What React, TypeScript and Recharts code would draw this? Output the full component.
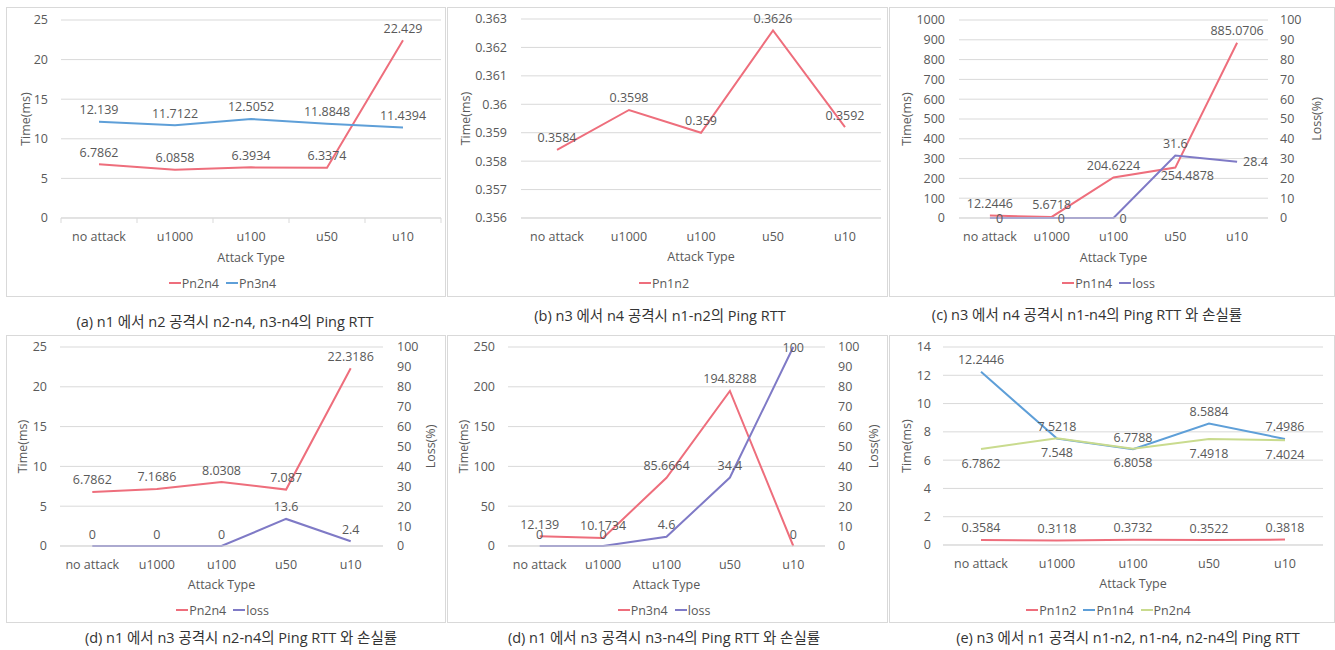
import React from 'react';
import { ComposedChart, Line, XAxis, YAxis, CartesianGrid, Legend } from 'recharts';

// ---------- data ----------
const categories = ['no attack', 'u1000', 'u100', 'u50', 'u10'];

// (a) n1 -> n2 attack
const aPn2n4 = [6.7862, 6.0858, 6.3934, 6.3374, 22.429];
const aPn3n4 = [12.139, 11.7122, 12.5052, 11.8848, 11.4394];
const aTicks = [0, 5, 10, 15, 20, 25];

// (b) n3 -> n4 attack
const bPn1n2 = [0.3584, 0.3598, 0.359, 0.3626, 0.3592];
const bTicks = [0.356, 0.357, 0.358, 0.359, 0.36, 0.361, 0.362, 0.363];

// (c) n3 -> n4 attack, n1-n4
const cPn1n4 = [12.2446, 5.6718, 204.6224, 254.4878, 885.0706];
const cLoss = [0, 0, 0, 31.6, 28.4];
const cTicks = [0, 100, 200, 300, 400, 500, 600, 700, 800, 900, 1000];
const lossTicks = [0, 10, 20, 30, 40, 50, 60, 70, 80, 90, 100];

// (d) n1 -> n3 attack, n2-n4
const dPn2n4 = [6.7862, 7.1686, 8.0308, 7.087, 22.3186];
const dLoss = [0, 0, 0, 13.6, 2.4];
const dTicks = [0, 5, 10, 15, 20, 25];

// (d) n1 -> n3 attack, n3-n4
const d2Pn3n4 = [12.139, 10.1734, 85.6664, 194.8288, 0];
const d2Loss = [0, 0, 4.6, 34.4, 100];
const d2Ticks = [0, 50, 100, 150, 200, 250];

// (e) n3 -> n1 attack
const ePn1n2 = [0.3584, 0.3118, 0.3732, 0.3522, 0.3818];
const ePn1n4 = [12.2446, 7.5218, 6.7788, 8.5884, 7.4986];
const ePn2n4 = [6.7862, 7.548, 6.8058, 7.4918, 7.4024];
const eTicks = [0, 2, 4, 6, 8, 10, 12, 14];

const captions = [
  '(a) n1 에서 n2 공격시 n2-n4, n3-n4의 Ping RTT',
  '(b) n3 에서 n4 공격시 n1-n2의 Ping RTT',
  '(c) n3 에서 n4 공격시 n1-n4의 Ping RTT 와 손실률',
  '(d) n1 에서 n3 공격시 n2-n4의 Ping RTT 와 손실률',
  '(d) n1 에서 n3 공격시 n3-n4의 Ping RTT 와 손실률',
  '(e) n3 에서 n1 공격시 n1-n2, n1-n4, n2-n4의 Ping RTT',
];

// ---------- styles ----------
const RED = '#EE6E7C';
const BLUE = '#5E9FD8';
const PURPLE = '#7F7AC6';
const GREEN = '#C9DB8E';
const TXT = '#595959';
const GRID = '#D9D9D9';
const FONT = "'Open Sans', 'Noto Sans CJK KR', sans-serif";
const FS = 12.5;

type Pos = 'a' | 'b' | 'c' | 'r' | 'br';
type Series = { key: string; name: string; values: number[]; color: string; right?: boolean; labels: Pos[] };
type Cfg = {
  box: [number, number, number, number];
  plot: [number, number, number, number];
  leftTicks: number[];
  rightTicks?: number[];
  gapL: number;
  gapR?: number;
  yTitleX: number;
  lossTitleX?: number;
  tickY: number;
  titleY: number;
  legendY: number;
  boundaryTicks?: boolean;
  series: Series[];
};

const all = (p: Pos): Pos[] => [p, p, p, p, p];

const panels: Cfg[] = [
  {
    box: [6, 7, 440, 290], plot: [61, 20, 441, 218], leftTicks: aTicks, gapL: 13, yTitleX: 25,
    tickY: 237, titleY: 257, legendY: 283, boundaryTicks: true,
    series: [
      { key: 's0', name: 'Pn2n4', values: aPn2n4, color: RED, labels: all('a') },
      { key: 's1', name: 'Pn3n4', values: aPn3n4, color: BLUE, labels: all('a') },
    ],
  },
  {
    box: [447, 7, 441, 290], plot: [521, 19, 881, 218], leftTicks: bTicks, gapL: 14, yTitleX: 465,
    tickY: 237, titleY: 256, legendY: 283,
    series: [{ key: 's0', name: 'Pn1n2', values: bPn1n2, color: RED, labels: all('a') }],
  },
  {
    box: [889, 7, 446, 290], plot: [959, 20, 1268, 218], leftTicks: cTicks, rightTicks: lossTicks, gapL: 14, gapR: 12,
    yTitleX: 906, lossTitleX: 1316, tickY: 237, titleY: 257, legendY: 283,
    series: [
      { key: 's0', name: 'Pn1n4', values: cPn1n4, color: RED, labels: ['a', 'a', 'a', 'br', 'a'] },
      { key: 's1', name: 'loss', values: cLoss, color: PURPLE, right: true, labels: ['r', 'r', 'r', 'a', 'r'] },
    ],
  },
  {
    box: [6, 335, 440, 288], plot: [60, 347, 383, 546], leftTicks: dTicks, rightTicks: lossTicks, gapL: 13, gapR: 14,
    yTitleX: 22, lossTitleX: 430, tickY: 565, titleY: 584, legendY: 610,
    series: [
      { key: 's0', name: 'Pn2n4', values: dPn2n4, color: RED, labels: all('a') },
      { key: 's1', name: 'loss', values: dLoss, color: PURPLE, right: true, labels: all('a') },
    ],
  },
  {
    box: [447, 335, 441, 288], plot: [508, 347, 825, 546], leftTicks: d2Ticks, rightTicks: lossTicks, gapL: 13, gapR: 13,
    yTitleX: 463, lossTitleX: 873, tickY: 565, titleY: 584, legendY: 610,
    series: [
      { key: 's0', name: 'Pn3n4', values: d2Pn3n4, color: RED, labels: all('a') },
      { key: 's1', name: 'loss', values: d2Loss, color: PURPLE, right: true, labels: ['a', 'a', 'a', 'a', 'c'] },
    ],
  },
  {
    box: [889, 335, 446, 288], plot: [943, 347, 1323, 545], leftTicks: eTicks, gapL: 12, yTitleX: 906,
    tickY: 564, titleY: 583, legendY: 610,
    series: [
      { key: 's0', name: 'Pn1n2', values: ePn1n2, color: RED, labels: all('a') },
      { key: 's1', name: 'Pn1n4', values: ePn1n4, color: BLUE, labels: all('a') },
      { key: 's2', name: 'Pn2n4', values: ePn2n4, color: GREEN, labels: all('b') },
    ],
  },
];

const captionPos: [number, number][] = [
  [225, 322], [660, 316], [1087, 315], [241, 638], [664, 638], [1128, 638],
];

const labelOffsets: Record<Pos, [number, number, string]> = {
  a: [0, -12, 'middle'],
  b: [0, 14, 'middle'],
  c: [0, 0, 'middle'],
  r: [6, 0, 'start'],
  br: [12, 8, 'middle'],
};

function makeLabel(positions: Pos[]) {
  return (p: any) => {
    const { x, y, value, index } = p;
    if (x == null || y == null) return null;
    const [dx, dy, anchor] = labelOffsets[positions[index] || 'a'];
    return (
      <text key={`l${index}`} x={x + dx} y={y + dy} textAnchor={anchor} dominantBaseline="central" fill={TXT} fontSize={FS}>
        {value}
      </text>
    );
  };
}

function Panel({ cfg }: { cfg: Cfg }) {
  const [L, T, W, H] = cfg.box;
  const [pl, pt, pr, pb] = cfg.plot;
  const yW = pl - L;
  const xH = T + H - pb;
  const hasRight = !!cfg.rightTicks;
  const rightW = hasRight ? L + W - pr : 0;
  const marginRight = hasRight ? 0 : L + W - pr;
  const band = (pr - pl) / categories.length;
  const bandHalf = band / 2;
  const data = categories.map((cat, i) => {
    const row: any = { cat };
    cfg.series.forEach((s) => (row[s.key] = s.values[i]));
    return row;
  });
  const midY = (pt + pb) / 2 - T;
  const plotMidX = (pl + pr) / 2 - L;
  const axisY = pb - T;
  const lt = cfg.leftTicks;

  const renderTick = (props: any) => {
    const { x, y, payload, index } = props;
    const i = payload && payload.index != null ? payload.index : index;
    return (
      <g>
        <text x={x} y={y} dy="0.71em" textAnchor="middle" fill={TXT} fontSize={FS}>
          {payload.value}
        </text>
        {cfg.boundaryTicks && <line x1={x - bandHalf} x2={x - bandHalf} y1={axisY} y2={axisY + 5} stroke={GRID} />}
        {cfg.boundaryTicks && i === categories.length - 1 && (
          <line x1={x + bandHalf} x2={x + bandHalf} y1={axisY} y2={axisY + 5} stroke={GRID} />
        )}
      </g>
    );
  };

  return (
    <div style={{ position: 'absolute', left: L, top: T, width: W, height: H }}>
      <div style={{ position: 'absolute', left: 0, top: 0, width: W, height: H, border: `1px solid ${GRID}`, boxSizing: 'border-box' }} />
      <ComposedChart width={W} height={H} data={data} margin={{ top: pt - T, right: marginRight, bottom: 0, left: 0 }}>
        <CartesianGrid vertical={false} stroke={GRID} />
        <XAxis
          dataKey="cat"
          height={xH}
          interval={0}
          padding={{ left: bandHalf, right: bandHalf }}
          tickLine={false}
          tickSize={0}
          tickMargin={cfg.tickY - pb - 5}
          axisLine={{ stroke: GRID }}
          tick={renderTick}
          label={{
            content: () => (
              <text x={plotMidX} y={cfg.titleY - T} textAnchor="middle" dominantBaseline="central" fill={TXT} fontSize={FS}>
                Attack Type
              </text>
            ),
          }}
        />
        <YAxis
          width={yW}
          domain={[lt[0], lt[lt.length - 1]]}
          ticks={lt}
          interval={0}
          axisLine={false}
          tickLine={false}
          tickSize={0}
          tickMargin={cfg.gapL}
          tick={{ fill: TXT, fontSize: FS }}
          label={{
            content: () => (
              <text
                x={cfg.yTitleX - L}
                y={midY}
                transform={`rotate(-90, ${cfg.yTitleX - L}, ${midY})`}
                textAnchor="middle"
                dominantBaseline="central"
                fill={TXT}
                fontSize={FS}
              >
                Time(ms)
              </text>
            ),
          }}
        />
        {hasRight && (
          <YAxis
            yAxisId="r"
            orientation="right"
            width={rightW}
            domain={[0, 100]}
            ticks={cfg.rightTicks}
            interval={0}
            axisLine={false}
            tickLine={false}
            tickSize={0}
            tickMargin={cfg.gapR}
            tick={{ fill: TXT, fontSize: FS }}
            label={{
              content: () => (
                <text
                  x={(cfg.lossTitleX as number) - L}
                  y={midY}
                  transform={`rotate(-90, ${(cfg.lossTitleX as number) - L}, ${midY})`}
                  textAnchor="middle"
                  dominantBaseline="central"
                  fill={TXT}
                  fontSize={FS}
                >
                  Loss(%)
                </text>
              ),
            }}
          />
        )}
        {cfg.series.map((s) => (
          <Line
            key={s.key}
            dataKey={s.key}
            name={s.name}
            yAxisId={s.right ? 'r' : 0}
            stroke={s.color}
            strokeWidth={2}
            dot={false}
            activeDot={false}
            isAnimationActive={false}
            label={makeLabel(s.labels)}
          />
        ))}
        <Legend
          verticalAlign="middle"
          align="center"
          layout="horizontal"
          wrapperStyle={{ top: cfg.legendY - T - 9, left: 0, width: W, height: 18 }}
          content={() => (
            <div style={{ display: 'flex', justifyContent: 'center', alignItems: 'center', height: 18, fontSize: FS, color: TXT }}>
              {cfg.series.map((s) => (
                <div key={s.key} style={{ display: 'flex', alignItems: 'center', marginRight: 7 }}>
                  <svg width={12} height={4} style={{ marginRight: 1 }}>
                    <line x1={0} y1={2} x2={12} y2={2} stroke={s.color} strokeWidth={2} />
                  </svg>
                  <span>{s.name}</span>
                </div>
              ))}
            </div>
          )}
        />
      </ComposedChart>
    </div>
  );
}

export default function App() {
  return (
    <div style={{ position: 'absolute', left: 0, top: 0, width: 1335, height: 650, background: '#fff', fontFamily: FONT }}>
      {panels.map((p, i) => (
        <Panel key={i} cfg={p} />
      ))}
      {captions.map((c, i) => (
        <div
          key={i}
          style={{
            position: 'absolute',
            left: captionPos[i][0] - 300,
            top: captionPos[i][1] - 10,
            width: 600,
            height: 20,
            lineHeight: '20px',
            textAlign: 'center',
            fontSize: 14.5,
            color: '#333',
            whiteSpace: 'nowrap',
          }}
        >
          {c}
        </div>
      ))}
    </div>
  );
}
